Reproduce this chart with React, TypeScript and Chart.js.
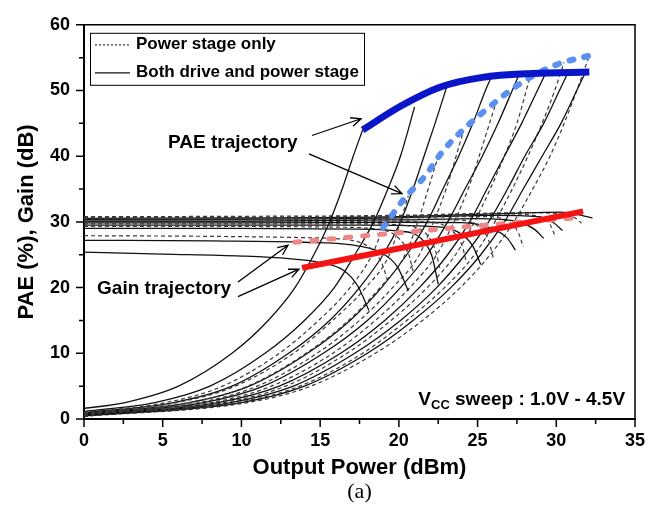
import React, { useEffect, useRef } from 'react';
import { Chart, registerables } from 'chart.js';

Chart.register(...registerables);

type Pt = [number, number];

const SANS = '"Liberation Sans", Arial, Helvetica, sans-serif';
const SERIF = '"Liberation Serif", "Times New Roman", serif';

// Supply voltage steps of the sweep (V)
const vccSteps = ['1.0', '1.5', '2.0', '2.5', '3.0', '3.5', '4.0', '4.5'];

// PAE (%) vs output power (dBm): both drive and power stage
const paeBoth10: Pt[] = [[0, 1.6], [2.6, 2.5], [6.0, 5], [9.4, 10], [11.7, 15], [13.4, 20], [14.6, 25], [15.6, 30], [16.4, 35], [17.1, 40], [17.7, 44]];
const paeBoth15: Pt[] = [[0, 1.15], [4.5, 2.5], [8.0, 5], [11.5, 10], [14.0, 15], [15.9, 20], [17.2, 25], [18.4, 30], [19.3, 35], [20.1, 40], [21.0, 47.5]];
const paeBoth20: Pt[] = [[0, 0.95], [5.7, 2.5], [9.4, 5], [13.0, 10], [15.6, 15], [17.5, 20], [19.0, 25], [20.1, 30], [20.9, 35], [21.6, 40], [22.3, 45], [23.1, 51]];
const paeBoth25: Pt[] = [[0, 0.85], [6.7, 2.5], [10.5, 5], [14.2, 10], [16.9, 15], [18.9, 20], [20.5, 25], [21.8, 30], [22.8, 35], [23.8, 40], [24.7, 45], [25.5, 50], [25.9, 52.2]];
const paeBoth30: Pt[] = [[0, 0.75], [7.6, 2.5], [11.4, 5], [15.2, 10], [18.0, 15], [20.1, 20], [21.8, 25], [23.1, 30], [24.2, 35], [25.3, 40], [26.3, 45], [27.2, 50], [27.7, 52.8]];
const paeBoth35: Pt[] = [[0, 0.65], [8.5, 2.5], [12.4, 5], [16.3, 10], [19.1, 15], [21.3, 20], [23.1, 25], [24.5, 30], [25.6, 35], [26.7, 40], [27.8, 45], [28.8, 50], [29.4, 53]];
const paeBoth40: Pt[] = [[0, 0.55], [9.3, 2.5], [13.3, 5], [17.2, 10], [20.1, 15], [22.4, 20], [24.2, 25], [25.7, 30], [26.9, 35], [28.0, 40], [29.2, 45], [30.2, 50], [30.8, 53]];
const paeBoth45: Pt[] = [[0, 0.45], [10.0, 2.5], [14.0, 5], [18.0, 10], [20.9, 15], [23.3, 20], [25.2, 25], [26.7, 30], [27.9, 35], [29.1, 40], [30.3, 45], [31.3, 50], [31.9, 53]];

// PAE (%) vs output power (dBm): power stage only
const paePower10: Pt[] = [[0, 1.0], [5.2, 2.5], [8.8, 5], [12.4, 10], [14.9, 15], [16.9, 20], [18.3, 25], [19.0, 29.1]];
const paePower15: Pt[] = [[0, 0.9], [5.9, 2.5], [9.6, 5], [13.3, 10], [15.8, 15], [17.9, 20], [19.4, 25], [20.1, 30], [20.6, 34]];
const paePower20: Pt[] = [[0, 0.8], [6.7, 2.5], [10.4, 5], [14.1, 10], [16.8, 15], [18.8, 20], [20.4, 25], [21.2, 30], [22.4, 39.2]];
const paePower25: Pt[] = [[0, 0.7], [7.3, 2.5], [11.0, 5], [14.8, 10], [17.5, 15], [19.6, 20], [21.3, 25], [22.2, 30], [23.0, 35], [24.1, 43.8]];
const paePower30: Pt[] = [[0, 0.6], [8.1, 2.5], [11.9, 5], [15.8, 10], [18.5, 15], [20.7, 20], [22.4, 25], [23.5, 30], [24.4, 35], [25.1, 40], [26.1, 47.6]];
const paePower35: Pt[] = [[0, 0.55], [8.9, 2.5], [12.8, 5], [16.7, 10], [19.5, 15], [21.8, 20], [23.6, 25], [24.8, 30], [25.8, 35], [26.7, 40], [27.5, 45], [28.3, 51.8]];
const paePower40: Pt[] = [[0, 0.5], [9.7, 2.5], [13.7, 5], [17.7, 10], [20.5, 15], [22.9, 20], [24.8, 25], [26.1, 30], [27.2, 35], [28.2, 40], [29.1, 45], [29.9, 50], [30.5, 54.3]];
const paePower45: Pt[] = [[0, 0.4], [10.4, 2.5], [14.4, 5], [18.5, 10], [21.5, 15], [23.9, 20], [25.8, 25], [27.3, 30], [28.5, 35], [29.6, 40], [30.5, 45], [31.3, 50], [32.1, 55.3]];

// Gain (dB) vs output power (dBm): both drive and power stage
const gainBoth10: Pt[] = [[0, 25.4], [5, 25.1], [10, 24.8], [13, 24.4], [15, 23.8], [16.5, 22.6], [17.4, 20.2], [18.1, 16.5]];
const gainBoth15: Pt[] = [[0, 27.2], [8, 27.1], [14, 26.9], [17, 26.5], [18.8, 25.4], [19.9, 23.2], [20.6, 19.5]];
const gainBoth20: Pt[] = [[0, 29.0], [10, 29.0], [17, 28.9], [20, 28.6], [21.4, 27.5], [22.1, 24.8], [22.5, 20.5]];
const gainBoth25: Pt[] = [[0, 29.5], [10, 29.5], [18, 29.5], [22, 29.3], [23.8, 28.4], [24.7, 26.3], [25.2, 23.5]];
const gainBoth30: Pt[] = [[0, 29.85], [10, 29.85], [20, 29.95], [24, 29.9], [25.9, 29.0], [26.9, 27.5], [27.4, 25.7]];
const gainBoth35: Pt[] = [[0, 30.1], [10, 30.1], [20, 30.3], [25, 30.5], [27.6, 30.0], [28.6, 28.9], [29.2, 27.5]];
const gainBoth40: Pt[] = [[0, 30.35], [10, 30.4], [20, 30.6], [26, 31.0], [28.8, 30.8], [29.8, 29.9], [30.4, 28.7]];
const gainBoth45: Pt[] = [[0, 30.55], [10, 30.6], [20, 30.8], [27, 31.3], [30.3, 31.5], [31.6, 31.0], [32.3, 30.6]];

// Gain (dB) vs output power (dBm): power stage only
const gainPower10: Pt[] = [[0, 27.9], [8, 27.8], [14, 27.6], [17.0, 27.2], [18.3, 25.8], [18.9, 23.8], [19.3, 21.0]];
const gainPower15: Pt[] = [[0, 29.3], [10, 29.3], [16, 29.2], [18.9, 28.8], [20.0, 27.5], [20.6, 25.3], [20.9, 22.5]];
const gainPower20: Pt[] = [[0, 29.7], [10, 29.7], [18, 29.7], [20.6, 29.4], [21.8, 28.0], [22.3, 25.8], [22.6, 23.0]];
const gainPower25: Pt[] = [[0, 30.0], [10, 30.0], [19, 30.1], [22.2, 29.9], [23.4, 28.6], [24.0, 26.5], [24.3, 23.8]];
const gainPower30: Pt[] = [[0, 30.25], [10, 30.3], [20, 30.4], [23.8, 30.3], [25.1, 29.2], [25.7, 27.2], [26.0, 24.5]];
const gainPower35: Pt[] = [[0, 30.45], [10, 30.5], [20, 30.7], [25.5, 30.8], [27.0, 30.0], [27.6, 28.3], [27.9, 26.2]];
const gainPower40: Pt[] = [[0, 30.65], [10, 30.7], [20, 30.9], [27, 31.2], [28.9, 30.8], [29.6, 29.6], [29.9, 28.0]];
const gainPower45: Pt[] = [[0, 30.8], [10, 30.85], [20, 31.0], [28, 31.4], [30.5, 31.2], [31.2, 30.6], [31.6, 29.8]];

// Trajectories across the Vcc sweep
const paeTrajBoth: Pt[] = [[17.7, 44.0], [20.1, 47.6], [22.6, 50.5], [25.3, 52.0], [28.5, 52.6], [32.1, 52.8]];
const paeTrajPower: Pt[] = [[19.0, 29.1], [20.3, 33.4], [21.7, 37.1], [22.8, 40.8], [24.3, 44.5], [25.7, 47.4], [27.3, 50.4], [28.8, 52.6], [30.2, 54.1], [32.1, 55.3]];
const gainTrajBoth: Pt[] = [[13.85, 23.0], [22.8, 27.3], [31.7, 31.6]];
const gainTrajPower: Pt[] = [[13.4, 26.9], [18.8, 28.1], [25.0, 29.4], [31.1, 30.6]];

const paeBothCurves = [paeBoth10, paeBoth15, paeBoth20, paeBoth25, paeBoth30, paeBoth35, paeBoth40, paeBoth45];
const paePowerCurves = [paePower10, paePower15, paePower20, paePower25, paePower30, paePower35, paePower40, paePower45];
const gainBothCurves = [gainBoth10, gainBoth15, gainBoth20, gainBoth25, gainBoth30, gainBoth35, gainBoth40, gainBoth45];
const gainPowerCurves = [gainPower10, gainPower15, gainPower20, gainPower25, gainPower30, gainPower35, gainPower40, gainPower45];

const toXY = (pts: Pt[]) => pts.map(([x, y]) => ({ x, y }));

const SOLID = { borderColor: '#111', borderWidth: 1.3, borderDash: [] as number[] };
const DASHED = { borderColor: '#3a3a3a', borderWidth: 1.2, borderDash: [4, 3] };

function curve(label: string, pts: Pt[], style: any, order: number) {
  return {
    label,
    data: toXY(pts),
    ...style,
    fill: false,
    pointRadius: 0,
    cubicInterpolationMode: 'monotone' as const,
    order,
  };
}

function arrow(ctx: CanvasRenderingContext2D, x1: number, y1: number, x2: number, y2: number) {
  const a = Math.atan2(y2 - y1, x2 - x1);
  const len = 11;
  const spread = 0.42;
  ctx.beginPath();
  ctx.moveTo(x1, y1);
  ctx.lineTo(x2, y2);
  ctx.moveTo(x2 - len * Math.cos(a - spread), y2 - len * Math.sin(a - spread));
  ctx.lineTo(x2, y2);
  ctx.lineTo(x2 - len * Math.cos(a + spread), y2 - len * Math.sin(a + spread));
  ctx.stroke();
}

const overlay = {
  id: 'overlay',
  afterDraw(chart: any) {
    const { ctx, chartArea: area } = chart;
    const xs = chart.scales.x;
    const ys = chart.scales.y;
    const px = (v: number) => xs.getPixelForValue(v);
    const py = (v: number) => ys.getPixelForValue(v);
    ctx.save();

    // frame: top and right edges
    ctx.strokeStyle = '#000';
    ctx.lineWidth = 1.5;
    ctx.beginPath();
    ctx.moveTo(area.left, area.top);
    ctx.lineTo(area.right, area.top);
    ctx.lineTo(area.right, area.bottom);
    ctx.stroke();

    // outward major and minor tick marks
    ctx.lineWidth = 1.5;
    ctx.beginPath();
    for (let v = 0; v <= 35.001; v += 2.5) {
      const x = px(v);
      const len = Math.abs(v % 5) < 1e-6 ? 8 : 5;
      ctx.moveTo(x, area.bottom);
      ctx.lineTo(x, area.bottom + len);
    }
    for (let v = 0; v <= 60.001; v += 5) {
      const y = py(v);
      const len = Math.abs(v % 10) < 1e-6 ? 8 : 5;
      ctx.moveTo(area.left, y);
      ctx.lineTo(area.left - len, y);
    }
    ctx.stroke();

    // legend
    const bx = area.left + 6;
    const by = area.top + 8;
    const bw = 274;
    const bh = 52;
    ctx.fillStyle = '#fff';
    ctx.fillRect(bx, by, bw, bh);
    ctx.lineWidth = 1;
    ctx.strokeStyle = '#000';
    ctx.strokeRect(bx + 0.5, by + 0.5, bw, bh);
    const rows: [string, any][] = [
      ['Power stage only', DASHED],
      ['Both drive and power stage', SOLID],
    ];
    ctx.font = `bold 17px ${SANS}`;
    ctx.textBaseline = 'middle';
    ctx.textAlign = 'left';
    rows.forEach(([text, st], i) => {
      const y = by + 12 + i * 28;
      ctx.strokeStyle = st.borderColor;
      ctx.lineWidth = st.borderWidth;
      ctx.setLineDash(st.borderDash.length ? [2, 2] : []);
      ctx.beginPath();
      ctx.moveTo(bx + 5, y);
      ctx.lineTo(bx + 40, y);
      ctx.stroke();
      ctx.setLineDash([]);
      ctx.fillStyle = '#000';
      ctx.fillText(text, bx + 46, y);
    });

    // annotations
    ctx.fillStyle = '#000';
    ctx.font = `bold 19px ${SANS}`;
    ctx.textBaseline = 'middle';
    ctx.fillText('PAE trajectory', px(5.34), py(41.97));
    ctx.fillText('Gain trajectory', px(0.83), py(19.8));

    ctx.strokeStyle = '#000';
    ctx.lineWidth = 1.3;
    arrow(ctx, px(14.48), py(43.15), px(17.6), py(45.7));
    arrow(ctx, px(14.29), py(40.34), px(20.2), py(34.3));
    arrow(ctx, px(9.78), py(20.84), px(12.96), py(26.45));
    arrow(ctx, px(9.78), py(18.62), px(13.66), py(22.8));

    // supply sweep note
    const right = px(34.37);
    const base = py(2.07);
    ctx.textBaseline = 'alphabetic';
    const big = `bold 19px ${SANS}`;
    const small = `bold 13px ${SANS}`;
    const rest = ' sweep : 1.0V - 4.5V';
    ctx.font = big;
    const wV = ctx.measureText('V').width;
    const wRest = ctx.measureText(rest).width;
    ctx.font = small;
    const wCC = ctx.measureText('CC').width;
    let x0 = right - (wV + wCC + wRest);
    ctx.font = big;
    ctx.fillText('V', x0, base);
    x0 += wV;
    ctx.font = small;
    ctx.fillText('CC', x0, base + 4);
    x0 += wCC;
    ctx.font = big;
    ctx.fillText(rest, x0, base);

    // caption
    ctx.font = `22px ${SERIF}`;
    ctx.textAlign = 'center';
    ctx.textBaseline = 'middle';
    ctx.fillText('(a)', (area.left + area.right) / 2, 492);

    ctx.restore();
  },
};

export default function App() {
  const ref = useRef<HTMLCanvasElement | null>(null);

  useEffect(() => {
    const canvas = ref.current;
    if (!canvas) return;

    const datasets: any[] = [
      curve('PAE trajectory (both stages)', paeTrajBoth, { borderColor: '#0a14c8', borderWidth: 7, borderDash: [], borderCapStyle: 'butt' }, 0),
      curve('PAE trajectory (power stage)', paeTrajPower, { borderColor: '#5b90f0', borderWidth: 6, borderDash: [4, 11], borderCapStyle: 'round' }, 0),
      curve('Gain trajectory (both stages)', gainTrajBoth, { borderColor: '#f41414', borderWidth: 6, borderDash: [], borderCapStyle: 'butt' }, 0),
      curve('Gain trajectory (power stage)', gainTrajPower, { borderColor: '#f08585', borderWidth: 5, borderDash: [5, 12], borderCapStyle: 'round' }, 0),
    ];
    vccSteps.forEach((v, i) => {
      datasets.push(curve(`PAE both ${v} V`, paeBothCurves[i], SOLID, 2));
      datasets.push(curve(`PAE power ${v} V`, paePowerCurves[i], DASHED, 2));
      datasets.push(curve(`Gain both ${v} V`, gainBothCurves[i], SOLID, 2));
      datasets.push(curve(`Gain power ${v} V`, gainPowerCurves[i], DASHED, 2));
    });

    const tickFont = { family: SANS, size: 18, weight: 'bold' as const };
    const titleFont = { family: SANS, size: 22, weight: 'bold' as const };

    const chart = new Chart(canvas, {
      type: 'line',
      data: { datasets },
      options: {
        responsive: false,
        animation: false,
        layout: { padding: { left: 0, right: 25, top: 13, bottom: 0 } },
        plugins: { legend: { display: false }, tooltip: { enabled: false } },
        scales: {
          x: {
            type: 'linear',
            min: 0,
            max: 35,
            ticks: { stepSize: 5, padding: 11, font: tickFont, color: '#000' },
            grid: { display: false, drawTicks: false },
            border: { display: true, color: '#000', width: 2 },
            title: { display: true, text: 'Output Power (dBm)', font: titleFont, color: '#000', padding: { top: 0, bottom: 25 } },
            afterFit: (s: any) => { s.height = 87; },
          },
          y: {
            type: 'linear',
            min: 0,
            max: 60,
            ticks: { stepSize: 10, padding: 14, font: tickFont, color: '#000' },
            grid: { display: false, drawTicks: false },
            border: { display: true, color: '#000', width: 2 },
            title: { display: true, text: 'PAE (%), Gain (dB)', font: titleFont, color: '#000', padding: { top: 14, bottom: 0 } },
            afterFit: (s: any) => { s.width = 84; },
          },
        },
      },
      plugins: [overlay],
    });

    return () => chart.destroy();
  }, []);

  return (
    <div style={{ position: 'absolute', left: 0, top: 0, width: 660, height: 506, background: '#fff' }}>
      <canvas ref={ref} width={660} height={506} style={{ display: 'block' }} />
    </div>
  );
}
